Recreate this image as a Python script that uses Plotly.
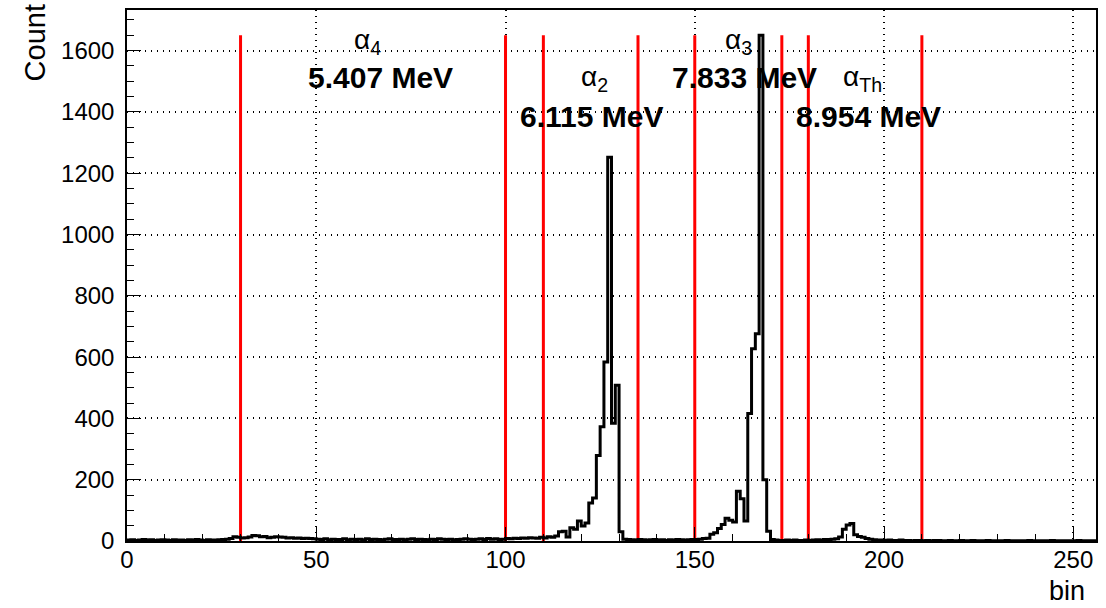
import plotly.graph_objects as go

# ---- data: counts per bin (bins 0..255, width 1) ----
counts_0_27 = [3, 4, 2, 3, 5, 3, 4, 2, 3, 4, 3, 2, 4, 3, 3, 2, 4, 3, 5, 3, 2, 4, 3, 3, 4, 5, 6, 8]
counts_28_49 = [14, 12, 10, 11, 13, 18, 17, 14, 15, 11, 12, 14, 13, 12, 10, 11, 9, 10, 8, 9, 8, 7]
counts_50_99 = [6, 5, 7, 4, 6, 5, 5, 7, 4, 6, 5, 6, 4, 7, 5, 6, 5, 4, 6, 7,
                5, 5, 6, 4, 6, 7, 5, 6, 5, 4, 6, 5, 7, 6, 5, 6, 4, 5, 6, 7,
                6, 5, 6, 7, 5, 8, 6, 7, 5, 6]
counts_100_112 = [8, 7, 9, 8, 10, 9, 11, 10, 9, 12, 10, 14, 12]
counts_113_131 = [16, 30, 32, 13, 43, 38, 65, 49, 59, 124, 140, 279, 373, 584, 1252, 384, 508, 30, 6]
counts_132_149 = [5, 4, 3, 5, 4, 3, 4, 5, 3, 4, 2, 4, 3, 5, 4, 3, 4, 5]
counts_150_172 = [5, 6, 8, 9, 22, 27, 41, 54, 74, 68, 62, 162, 138, 65, 416, 627, 676, 1650, 200, 32, 5, 3, 2]
counts_173_187 = [2, 3, 2, 3, 2, 2, 3, 2, 3, 4, 3, 5, 5, 6, 7]
counts_188_196 = [13, 38, 52, 57, 20, 15, 12, 8, 6]
counts_197_255 = [4, 3, 3, 2, 3, 2, 2, 3, 2, 2, 1, 2, 2, 1, 2, 1, 2, 2, 1, 1,
                  2, 1, 1, 2, 1, 1, 2, 1, 1, 1, 2, 1, 1, 1, 1, 2, 1, 1, 1, 1,
                  1, 2, 1, 1, 1, 1, 1, 2, 1, 1, 1, 1, 1, 1, 2, 1, 1, 1, 1]

counts = (counts_0_27 + counts_28_49 + counts_50_99 + counts_100_112 + counts_113_131
          + counts_132_149 + counts_150_172 + counts_173_187 + counts_188_196 + counts_197_255)
bin_edges = list(range(len(counts) + 1))

# vertical cut lines (bin positions)
cut_lines = [30, 100, 110, 135, 150, 173, 180, 210]

# peak labels
label_names = ["α<sub>4</sub>", "α<sub>2</sub>", "α<sub>3</sub>", "α<sub>Th</sub>"]
label_energies = ["5.407 MeV", "6.115 MeV", "7.833 MeV", "8.954 MeV"]
name_x = [63.5, 123.5, 161.5, 194.3]
name_y = [1630, 1510, 1630, 1510]
energy_x = [67.0, 122.8, 163.1, 195.9]
energy_y = [1512, 1385, 1512, 1385]

ymax = max(counts) * 1.05
FONT = "Liberation Sans, Arial, Helvetica, sans-serif"

fig = go.Figure()

# red cut lines
for c in cut_lines:
    fig.add_trace(go.Scatter(x=[c, c], y=[0, max(counts)], mode="lines",
                             line=dict(color="#ff0000", width=3),
                             showlegend=False, hoverinfo="skip"))

# histogram as step line
fig.add_trace(go.Scatter(x=bin_edges, y=counts + [counts[-1]], mode="lines",
                         line=dict(color="black", width=3, shape="hv"),
                         showlegend=False))

annotations = []
for n, nx, ny in zip(label_names, name_x, name_y):
    annotations.append(dict(x=nx, y=ny, xref="x", yref="y", text=n, showarrow=False,
                            font=dict(family=FONT, size=28, color="black"),
                            xanchor="center", yanchor="middle"))
for e, ex, ey in zip(label_energies, energy_x, energy_y):
    annotations.append(dict(x=ex, y=ey, xref="x", yref="y", text="<b>" + e + "</b>",
                            showarrow=False,
                            font=dict(family=FONT, size=30, color="black"),
                            xanchor="center", yanchor="middle"))
annotations.append(dict(x=-0.095, y=1.0, xref="paper", yref="paper", text="Count",
                        textangle=-90, showarrow=False,
                        font=dict(family=FONT, size=29, color="black"),
                        xanchor="center", yanchor="top", yshift=8))
annotations.append(dict(x=1.0, y=-0.094, xref="paper", yref="paper", text="bin",
                        showarrow=False,
                        font=dict(family=FONT, size=27, color="black"),
                        xanchor="right", yanchor="middle", xshift=-9))

fig.update_layout(
    width=1106, height=608,
    margin=dict(l=127, r=10, t=8, b=67),
    paper_bgcolor="white", plot_bgcolor="white",
    showlegend=False,
    annotations=annotations,
    xaxis=dict(range=[0, 256], tickmode="array", tickvals=[0, 50, 100, 150, 200, 250],
               ticks="inside", ticklen=14, tickwidth=1, tickcolor="black",
               minor=dict(ticks="inside", ticklen=7, dtick=10, tick0=0, tickcolor="black",
                          showgrid=False),
               showgrid=True, gridcolor="black", griddash="1px,5px", gridwidth=1.5,
               showline=True, linecolor="black", linewidth=1.5, mirror=True,
               zeroline=False,
               tickfont=dict(family=FONT, size=24, color="black"),
               ticklabelstandoff=-4),
    yaxis=dict(range=[0, ymax], tickmode="array",
               tickvals=[0, 200, 400, 600, 800, 1000, 1200, 1400, 1600],
               ticks="inside", ticklen=14, tickwidth=1, tickcolor="black",
               minor=dict(ticks="inside", ticklen=7, dtick=50, tick0=0, tickcolor="black",
                          showgrid=False),
               showgrid=True, gridcolor="black", griddash="1px,5px", gridwidth=1.5,
               showline=True, linecolor="black", linewidth=1.5, mirror=True,
               zeroline=False,
               tickfont=dict(family=FONT, size=24, color="black"),
               ticklabelstandoff=6),
)

fig.write_html("out.html", config={"displayModeBar": False},
               post_script="document.body.style.margin='0';")
